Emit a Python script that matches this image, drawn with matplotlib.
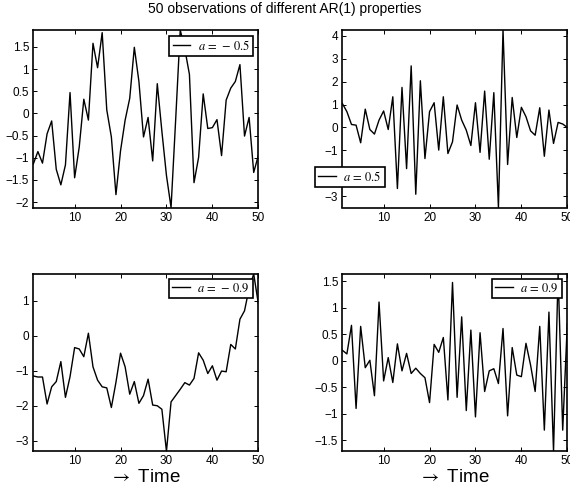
import matplotlib
matplotlib.use("Agg")
import matplotlib.pyplot as plt
from matplotlib.ticker import FuncFormatter, FixedLocator
import numpy as np

# Time index shared by all four series
t = np.arange(1, 51)

# AR(1) realisations, one per coefficient
x_a_m05 = [-1.14, -0.86, -1.12, -0.46, -0.17, -1.26, -1.61, -1.16, 0.47, -1.45,
           -0.76, 0.32, -0.15, 1.58, 1.03, 1.82, 0.08, -0.53, -1.83, -0.84,
           -0.15, 0.34, 1.49, 0.72, -0.53, -0.09, -1.07, 0.67, -0.40, -1.40,
           -2.12, -0.15, 1.88, 1.45, 0.88, -1.56, -0.99, 0.44, -0.34, -0.32,
           -0.14, -0.95, 0.30, 0.57, 0.72, 1.10, -0.51, -0.09, -1.33, -0.95]

x_a_p05 = [1.05, 0.69, 0.13, 0.10, -0.67, 0.80, -0.09, -0.29, 0.32, 0.72,
           -0.09, 1.34, -2.67, 1.75, -1.80, 2.69, -2.92, 2.04, -1.36, 0.69,
           1.08, -0.99, 1.34, -1.14, -0.63, 0.98, 0.32, -0.12, -0.79, 1.08,
           -1.09, 1.59, -1.39, 1.52, -3.50, 4.26, -1.62, 1.31, -0.44, 0.88,
           0.47, -0.15, -0.34, 0.86, -1.26, 0.76, -0.70, 0.22, 0.15, 0.00]

x_a_m09 = [-1.15, -1.18, -1.18, -1.95, -1.46, -1.31, -0.74, -1.76, -1.17, -0.34,
           -0.38, -0.60, 0.07, -0.89, -1.27, -1.46, -1.49, -2.05, -1.33, -0.50,
           -0.89, -1.67, -1.31, -1.93, -1.71, -1.24, -1.98, -2.00, -2.10, -3.30,
           -1.89, -1.71, -1.53, -1.34, -1.41, -1.22, -0.49, -0.70, -1.08, -0.86,
           -1.27, -1.01, -1.03, -0.25, -0.38, 0.47, 0.71, 1.35, 1.76, 0.92]

x_a_p09 = [0.20, 0.13, 0.67, -0.90, 0.65, -0.13, 0.01, -0.66, 1.11, -0.38,
           0.06, -0.41, 0.32, -0.19, 0.14, -0.24, -0.14, -0.24, -0.32, -0.79,
           0.31, 0.16, 0.44, -0.74, 1.48, -0.69, 0.83, -0.94, 0.58, -1.06,
           0.53, -0.58, -0.19, -0.15, -0.43, 0.61, -1.04, 0.25, -0.27, -0.30,
           0.33, -0.08, -0.58, 0.65, -1.31, 0.92, -1.71, 1.64, -1.31, 0.70]

series = [x_a_m05, x_a_p05, x_a_m09, x_a_p09]
labels = [r"$a\,=\,-\,0.5$", r"$a\,=\,0.5$", r"$a\,=\,-\,0.9$", r"$a\,=\,0.9$"]

x_ticks = [10, 20, 30, 40, 50]
y_ticks = [
    [-2, -1.5, -1, -0.5, 0, 0.5, 1, 1.5],
    [-3, -2, -1, 0, 1, 2, 3, 4],
    [-3, -2, -1, 0, 1],
    [-1.5, -1, -0.5, 0, 0.5, 1, 1.5],
]

plt.rcParams["font.family"] = ["Liberation Sans", "DejaVu Sans"]
plt.rcParams["mathtext.fontset"] = "stix"
plt.rcParams["axes.unicode_minus"] = True

W, H = 570, 493
fig = plt.figure(figsize=(W / 100, H / 100), dpi=100)

# axes rectangles in pixels: left, top, right, bottom
boxes = [(33.3, 30, 258.3, 207.5), (342.3, 30, 567.3, 207.5),
         (33.3, 274, 258.3, 451.3), (342.3, 274, 567.3, 451.3)]

# legend anchors (pixel coords of the chosen corner) and corner names
leg_anchor = [((252.7, 35.7), "upper right"), ((315.0, 166.7), "upper left"),
              ((252.7, 279.3), "upper right"), ((561.7, 279.0), "upper right")]


def fmt(v, _pos):
    s = f"{v:g}"
    return s.replace("-", "\u2212")


for i, (y, lab, box) in enumerate(zip(series, labels, boxes)):
    l, tp, r, b = box
    ax = fig.add_axes([l / W, 1 - b / H, (r - l) / W, (b - tp) / H])
    ax.plot(t, y, color="black", lw=1.0, label=lab)
    ax.set_xlim(1, 50)
    ax.set_ylim(min(y), max(y))
    ax.xaxis.set_major_locator(FixedLocator(x_ticks))
    ax.yaxis.set_major_locator(FixedLocator(y_ticks[i]))
    ax.yaxis.set_major_formatter(FuncFormatter(fmt))
    ax.tick_params(direction="in", length=3, width=0.7, labelsize=8.5,
                   top=True, right=True, pad=3)
    for sp in ax.spines.values():
        sp.set_linewidth(1.2)
    (px, py), loc = leg_anchor[i]
    ax.legend(loc=loc, bbox_to_anchor=(px / W, 1 - py / H),
              bbox_transform=fig.transFigure, fontsize=9, frameon=True,
              fancybox=False, framealpha=1, edgecolor="black",
              handlelength=1.4, handletextpad=0.6, borderpad=0.25,
              borderaxespad=0).get_frame().set_linewidth(1.2)
    if i >= 2:
        ax.set_xlabel(r"$\rightarrow$ Time", fontsize=13.5, labelpad=1)

fig.suptitle("50 observations of different AR(1) properties",
             fontsize=10, y=1 - 9 / H, va="center")

fig.savefig("out.png", dpi=100)
